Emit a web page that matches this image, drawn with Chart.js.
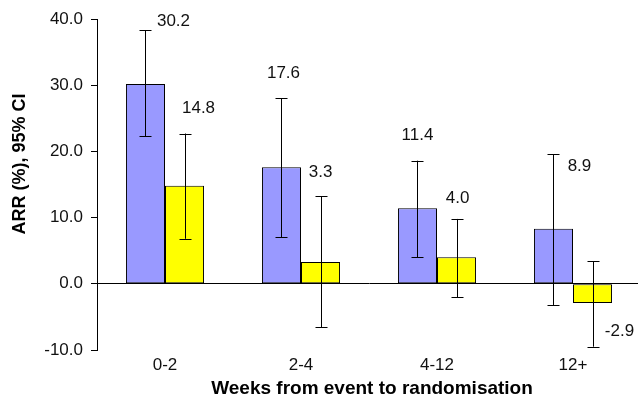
<!DOCTYPE html>
<html>
<head>
<meta charset="utf-8">
<script src="https://cdn.jsdelivr.net/npm/chart.js@4"></script>
<style>
  html, body { margin: 0; padding: 0; background: #fff; overflow: hidden; }
  #wrap { width: 642px; height: 408px; position: relative; }
</style>
</head>
<body>
<div id="wrap"><canvas id="arr-chart"></canvas></div>
<script>
const categories = ['0-2', '2-4', '4-12', '12+'];

const blueValues = [30.2, 17.6, 11.4, 8.3];
const blueLow = [22.3, 7.0, 4.0, -3.2];
const blueHigh = [38.3, 28.0, 18.6, 19.6];
const blueLabels = ['30.2', '17.6', '11.4', '8.9'];

const yellowValues = [14.8, 3.3, 4.0, -2.9];
const yellowLow = [6.8, -6.6, -2.0, -9.5];
const yellowHigh = [22.7, 13.2, 9.8, 3.4];
const yellowLabels = ['14.8', '3.3', '4.0', '-2.9'];

const yTicks = [-10, 0, 10, 20, 30, 40];

const FONT = '"Liberation Sans", Arial, sans-serif';

// label offsets (px) from the top of each error bar, picked by eye
const labelNudge = [
  [[28, -9], [2, -25], [0, -25], [26, 12]],
  [[14, -25], [0, -24], [1, -21], [27, 70]]
];

const errorBars = {
  id: 'errorBars',
  afterDatasetsDraw(chart) {
    const ctx = chart.ctx;
    const y = chart.scales.y;
    const lows = [blueLow, yellowLow];
    const highs = [blueHigh, yellowHigh];
    const texts = [blueLabels, yellowLabels];
    ctx.save();
    ctx.strokeStyle = '#000';
    ctx.lineWidth = 1;
    chart.data.datasets.forEach((ds, i) => {
      chart.getDatasetMeta(i).data.forEach((bar, j) => {
        const x = Math.round(bar.x) + 0.5;
        const top = y.getPixelForValue(highs[i][j]);
        const bot = y.getPixelForValue(lows[i][j]);
        ctx.beginPath();
        ctx.moveTo(x, top); ctx.lineTo(x, bot);
        ctx.moveTo(x - 6, Math.round(top) + 0.5); ctx.lineTo(x + 6, Math.round(top) + 0.5);
        ctx.moveTo(x - 6, Math.round(bot) + 0.5); ctx.lineTo(x + 6, Math.round(bot) + 0.5);
        ctx.stroke();

        ctx.fillStyle = '#111';
        ctx.font = '17px ' + FONT;
        ctx.textAlign = 'center';
        ctx.textBaseline = 'middle';
        const n = labelNudge[i][j];
        ctx.fillText(texts[i][j], bar.x + n[0], top + n[1]);
      });
    });
    ctx.restore();
  }
};

const axisTitles = {
  id: 'axisTitles',
  afterDraw(chart) {
    const ctx = chart.ctx;
    ctx.save();
    ctx.fillStyle = '#000';
    ctx.textAlign = 'center';
    ctx.textBaseline = 'middle';
    ctx.font = 'bold 19px ' + FONT;
    ctx.fillText('Weeks from event to randomisation', 372, 389);
    ctx.translate(20, 164);
    ctx.rotate(-Math.PI / 2);
    ctx.font = 'bold 18px ' + FONT;
    ctx.fillText('ARR (%), 95% CI', 0, 0);
    ctx.restore();
  }
};

new Chart(document.getElementById('arr-chart'), {
  type: 'bar',
  data: {
    labels: categories,
    datasets: [{
      data: blueValues,
      backgroundColor: '#9999ff',
      borderColor: '#000',
      borderWidth: 1,
      borderSkipped: false,
      categoryPercentage: 0.574,
      barPercentage: 1.0
    }, {
      data: yellowValues,
      backgroundColor: '#ffff00',
      borderColor: '#000',
      borderWidth: 1,
      borderSkipped: false,
      categoryPercentage: 0.574,
      barPercentage: 1.0
    }]
  },
  options: {
    responsive: true,
    maintainAspectRatio: false,
    animation: false,
    layout: { padding: { top: 19, right: 1, left: 0, bottom: 0 } },
    plugins: {
      legend: { display: false },
      tooltip: { enabled: false }
    },
    scales: {
      x: {
        grid: { display: false, drawTicks: false, tickLength: 0 },
        border: { display: false },
        ticks: {
          color: '#111',
          padding: 5,
          font: { family: FONT, size: 17 }
        },
        afterFit(scale) { scale.height = 58; }
      },
      y: {
        min: -10,
        max: 40,
        afterBuildTicks(scale) { scale.ticks = yTicks.map(v => ({ value: v })); },
        grid: {
          color: (c) => (c.tick && c.tick.value === 0) ? '#000' : 'rgba(0,0,0,0)',
          tickColor: '#000',
          tickLength: 6,
          lineWidth: 1
        },
        border: { display: true, color: '#000', width: 1 },
        ticks: {
          color: '#111',
          padding: 8,
          font: { family: FONT, size: 17 },
          callback: (v) => Number(v).toFixed(1)
        },
        afterFit(scale) { scale.width = 97; }
      }
    }
  },
  plugins: [errorBars, axisTitles]
});
</script>
</body>
</html>
